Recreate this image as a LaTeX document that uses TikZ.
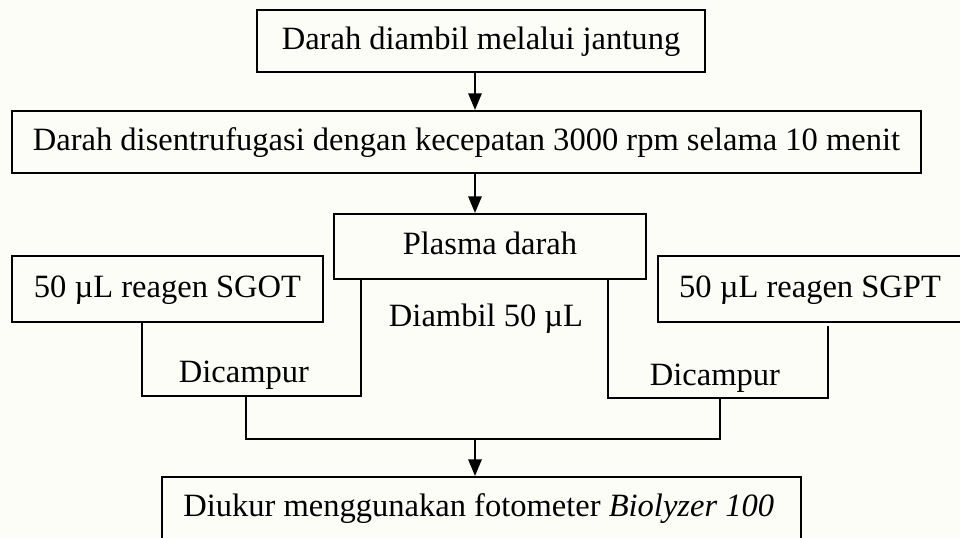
\documentclass[tikz,border=0pt]{standalone}
\usepackage{fontspec}
\setmainfont{Liberation Serif}
\usetikzlibrary{arrows.meta}
\definecolor{bgc}{RGB}{253,253,248}
\begin{document}
\begin{tikzpicture}[x=0.75pt,y=-0.75pt,
  every node/.style={font=\fontsize{24.4pt}{29pt}\selectfont, text=black},
  box/.style={draw=black, line width=1.5pt, rectangle, inner sep=0pt, text height=17.25pt, text depth=5.25pt},
  conn/.style={draw=black, line width=1.5pt},
  arr/.style={conn, -{Triangle[length=12.5pt,width=10pt]}},
  lbl/.style={anchor=base, inner sep=0pt}
]
\fill[bgc] (0,0) rectangle (960,537);
\useasboundingbox (0,0) rectangle (960,537);

\node[box, minimum width=448*0.75pt, minimum height=62*0.75pt] (b1) at (481,41) {Darah diambil melalui jantung};
\node[box, minimum width=909*0.75pt, minimum height=62*0.75pt] (b2) at (466.5,142) {Darah disentrufugasi dengan kecepatan 3000 rpm selama 10 menit};
\node[box, minimum width=312*0.75pt, minimum height=65*0.75pt] (pl) at (490,246.5) {Plasma darah};
\node[box, minimum width=311*0.75pt, minimum height=66*0.75pt] (sgot) at (167.5,289) {50 µL reagen SGOT};
\node[box, minimum width=304*0.75pt, minimum height=66*0.75pt] (sgpt) at (810,289) {50 µL reagen SGPT};
\node[box, minimum width=639*0.75pt, minimum height=64*0.75pt] (b6) at (481.5,509) {};
\node[lbl, anchor=base west] (t6) at (183,516) {Diukur menggunakan fotometer \textit{Biolyzer 100}};

\node[lbl] (t1) at (486,326) {Diambil 50 µL};
\node[lbl] (t2) at (244,382) {Dicampur};
\node[lbl] (t3) at (715,385) {Dicampur};

\coordinate (ax) at (475,0);
\draw[arr] (b1.south -| ax) -- (b2.north -| ax);
\draw[arr] (b2.south -| ax) -- (pl.north -| ax);

\coordinate (lx1) at (142,396);
\coordinate (lx2) at (361,396);
\draw[conn] (sgot.south -| lx1) -- (lx1) -- (lx2) -- (pl.south -| lx2);

\coordinate (rx1) at (608,398);
\coordinate (rx2) at (828,398);
\coordinate (rtop) at (828,326);
\draw[conn] (pl.south -| rx1) -- (rx1) -- (rx2) -- (rtop);

\coordinate (m1) at (246,396);
\coordinate (m1b) at (246,439);
\coordinate (m2b) at (720,439);
\coordinate (m2) at (720,398);
\draw[conn] (m1) -- (m1b) -- (m2b) -- (m2);
\draw[arr] (ax |- m1b) -- (b6.north -| ax);
\end{tikzpicture}
\end{document}
